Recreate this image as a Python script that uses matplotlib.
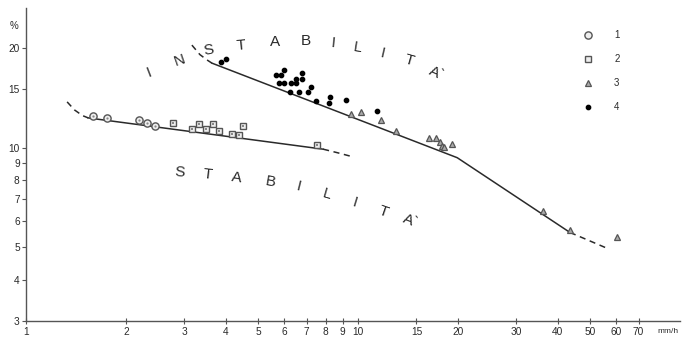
import matplotlib
matplotlib.use('Agg')
import matplotlib.pyplot as plt
from matplotlib.ticker import FixedLocator, FixedFormatter, NullLocator

# --- data (x = mm/h, y = %) ---
s1_x = [1.59, 1.75, 2.19, 2.31, 2.45]
s1_y = [12.5, 12.3, 12.1, 11.9, 11.65]

s2_x = [2.77, 3.16, 3.32, 3.48, 3.66, 3.81, 4.17, 4.38, 4.50, 7.52]
s2_y = [11.9, 11.4, 11.8, 11.4, 11.8, 11.25, 11.0, 10.9, 11.65, 10.2]

s3_x = [9.53, 10.2, 11.73, 13.02, 16.36, 17.18, 17.66, 17.91, 18.16, 19.19, 36.1, 43.5, 60.3]
s3_y = [12.66, 12.83, 12.14, 11.25, 10.72, 10.72, 10.43, 10.14, 10.07, 10.28, 6.46, 5.66, 5.39]

s4_x = [3.87, 4.00, 5.66, 5.86, 5.99, 6.78, 6.51, 6.78, 5.78, 5.99, 6.28, 6.51,
        7.22, 6.24, 6.64, 7.07, 7.47, 8.18, 8.23, 9.20, 11.41]
s4_y = [18.2, 18.5, 16.6, 16.6, 17.2, 16.8, 16.1, 16.1, 15.7, 15.7, 15.7, 15.7,
        15.3, 14.75, 14.75, 14.75, 13.8, 13.6, 14.2, 13.95, 12.9]

# boundary lines
low_dash1_x = [1.33, 1.40, 1.48, 1.54]
low_dash1_y = [13.75, 13.0, 12.5, 12.3]
low_solid_x = [1.54, 7.85]
low_solid_y = [12.3, 9.9]
low_dash2_x = [7.85, 8.7, 9.6]
low_dash2_y = [9.9, 9.65, 9.4]

up_dash1_x = [3.16, 3.34, 3.51, 3.63]
up_dash1_y = [20.4, 19.1, 18.4, 18.0]
up_solid_x = [3.63, 19.9, 43.5]
up_solid_y = [18.0, 9.33, 5.55]
up_dash2_x = [43.5, 48.9, 56.6]
up_dash2_y = [5.55, 5.28, 4.96]

x_ticks = [1, 2, 3, 4, 5, 6, 7, 8, 9, 10, 15, 20, 30, 40, 50, 60, 70]
y_ticks = [3, 4, 5, 6, 7, 8, 9, 10, 15, 20]

# arc lettering
up_letters = ['I', 'N', 'S', 'T', 'A', 'B', 'I', 'L', 'I', 'T', 'A`']
up_lx = [2.35, 2.91, 3.56, 4.44, 5.62, 6.97, 8.41, 10.0, 11.9, 14.3, 17.3]
up_ly = [16.9, 18.4, 19.7, 20.4, 20.9, 21.0, 20.6, 20.0, 19.2, 18.3, 16.8]
up_rot = [21, 19, 10, 5, 0, 0, -6, -9, -13, -16, -24]

low_letters = ['S', 'T', 'A', 'B', 'I', 'L', 'I', 'T', 'A`']
low_lx = [2.91, 3.53, 4.32, 5.43, 6.64, 8.06, 9.79, 11.9, 14.4]
low_ly = [8.41, 8.29, 8.12, 7.90, 7.63, 7.22, 6.83, 6.42, 5.99]
low_rot = [-4, -6, -8, -10, -14, -16, -17, -19, -21]

ink = '#2a2a2a'
plt.rcParams['font.family'] = ['Liberation Sans', 'DejaVu Sans']

fig = plt.figure(figsize=(6.85, 3.44), dpi=100)
ax = fig.add_axes([26 / 685, 23 / 344, 654 / 685, 313 / 344])
ax.set_xscale('log')
ax.set_yscale('log')
ax.set_xlim(1, 93.3)
ax.set_ylim(3, 26.4)

line_kw = dict(color=ink, lw=1.1)
dash_kw = dict(color=ink, lw=1.1, dashes=(4, 3))
ax.plot(low_dash1_x, low_dash1_y, **dash_kw)
ax.plot(low_solid_x, low_solid_y, **line_kw)
ax.plot(low_dash2_x, low_dash2_y, **dash_kw)
ax.plot(up_dash1_x, up_dash1_y, **dash_kw)
ax.plot(up_solid_x, up_solid_y, **line_kw)
ax.plot(up_dash2_x, up_dash2_y, **dash_kw)

# open symbols with a small grey centre, as in the original
ax.plot(s1_x, s1_y, 'o', ms=5.2, mfc='#eeeeee', mec='#555555', mew=1.0, label='1')
ax.plot(s1_x, s1_y, 'o', ms=1.6, color='#888888', mew=0)
ax.plot(s2_x, s2_y, 's', ms=4.8, mfc='#eeeeee', mec='#555555', mew=1.0, label='2')
ax.plot(s2_x, s2_y, 's', ms=1.6, color='#888888', mew=0)
ax.plot(s3_x, s3_y, '^', ms=4.8, mfc='#aaaaaa', mec='#555555', mew=0.9, label='3')
ax.plot(s4_x, s4_y, 'o', ms=3.1, color='black', label='4')

for t, x, y, r in zip(up_letters, up_lx, up_ly, up_rot):
    ax.text(x, y, t, fontsize=11, color=ink, rotation=r, ha='center', va='center',
            rotation_mode='anchor')
for t, x, y, r in zip(low_letters, low_lx, low_ly, low_rot):
    ax.text(x, y, t, fontsize=11, color=ink, rotation=r, ha='center', va='center',
            rotation_mode='anchor')

leg = ax.legend(loc='upper left', bbox_to_anchor=(583 / 685, 314 / 344),
                bbox_transform=fig.transFigure, frameon=False, fontsize=7,
                handlelength=1.0, handletextpad=2.2, labelspacing=1.45,
                borderpad=0, borderaxespad=0)
for txt in leg.get_texts():
    txt.set_color(ink)

for side in ['top', 'right']:
    ax.spines[side].set_visible(False)
for side in ['left', 'bottom']:
    ax.spines[side].set_color('#555555')
    ax.spines[side].set_linewidth(1.0)

ax.xaxis.set_major_locator(FixedLocator(x_ticks))
ax.xaxis.set_major_formatter(FixedFormatter([str(v) for v in x_ticks]))
ax.xaxis.set_minor_locator(NullLocator())
ax.yaxis.set_major_locator(FixedLocator(y_ticks))
ax.yaxis.set_major_formatter(FixedFormatter([str(v) for v in y_ticks]))
ax.yaxis.set_minor_locator(NullLocator())
ax.tick_params(axis='x', direction='inout', length=5, width=0.8, color='#555555',
               labelsize=7.3, labelcolor=ink, pad=2)
ax.tick_params(axis='y', direction='out', length=3, width=0.8, color='#555555',
               labelsize=7.3, labelcolor=ink, pad=1.5)

ax.text(-0.018, 0.942, '%', transform=ax.transAxes, fontsize=7, color=ink,
        ha='center', va='center')
ax.text(0.982, -0.035, 'mm/h', transform=ax.transAxes, fontsize=6, color=ink,
        ha='center', va='center', clip_on=False)

fig.savefig('out.png', dpi=100)
